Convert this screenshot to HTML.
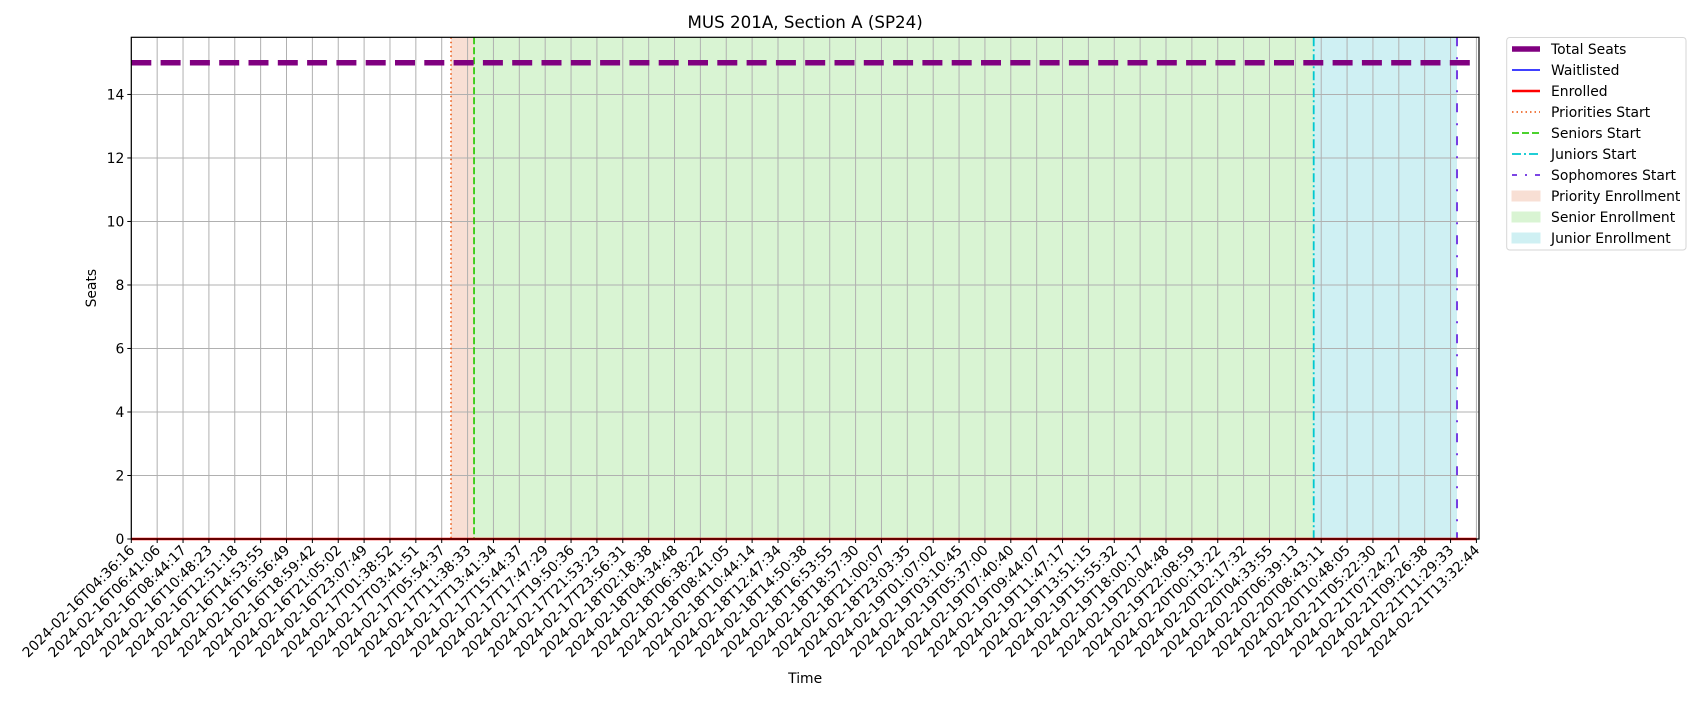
<!DOCTYPE html>
<html><head><meta charset="utf-8"><style>
body{margin:0;background:#fff;width:1700px;height:700px;overflow:hidden}
svg{font-family:"DejaVu Sans","Liberation Sans",sans-serif}
</style></head><body>
<svg id="chart" width="1700" height="700"></svg>
<script>
const categories=["2024-02-16T04:36:16","2024-02-16T06:41:06","2024-02-16T08:44:17","2024-02-16T10:48:23","2024-02-16T12:51:18","2024-02-16T14:53:55","2024-02-16T16:56:49","2024-02-16T18:59:42","2024-02-16T21:05:02","2024-02-16T23:07:49","2024-02-17T01:38:52","2024-02-17T03:41:51","2024-02-17T05:54:37","2024-02-17T11:38:33","2024-02-17T13:41:34","2024-02-17T15:44:37","2024-02-17T17:47:29","2024-02-17T19:50:36","2024-02-17T21:53:23","2024-02-17T23:56:31","2024-02-18T02:18:38","2024-02-18T04:34:48","2024-02-18T06:38:22","2024-02-18T08:41:05","2024-02-18T10:44:14","2024-02-18T12:47:34","2024-02-18T14:50:38","2024-02-18T16:53:55","2024-02-18T18:57:30","2024-02-18T21:00:07","2024-02-18T23:03:35","2024-02-19T01:07:02","2024-02-19T03:10:45","2024-02-19T05:37:00","2024-02-19T07:40:40","2024-02-19T09:44:07","2024-02-19T11:47:17","2024-02-19T13:51:15","2024-02-19T15:55:32","2024-02-19T18:00:17","2024-02-19T20:04:48","2024-02-19T22:08:59","2024-02-20T00:13:22","2024-02-20T02:17:32","2024-02-20T04:33:55","2024-02-20T06:39:13","2024-02-20T08:43:11","2024-02-20T10:48:05","2024-02-21T05:22:30","2024-02-21T07:24:27","2024-02-21T09:26:38","2024-02-21T11:29:33","2024-02-21T13:32:44"];
const totalSeats=categories.map(()=>15);
const waitlisted=categories.map(()=>0);
const enrolled=categories.map(()=>0);
const yTicks=[0,2,4,6,8,10,12,14];
const phaseStarts=[12.36,13.25,45.71,51.25];
const phaseNames=["priorities","seniors","juniors","sophomores"];

const L=131.3,R=1479,T=37.3,B=539;
const xMin=0,xMax=52.1,yMin=0,yMax=15.8;
const X=v=>L+(v-xMin)/(xMax-xMin)*(R-L);
const Y=v=>B-(v-yMin)/(yMax-yMin)*(B-T);
const svg=document.getElementById('chart');
const NS='http://www.w3.org/2000/svg';
function mk(tag,attrs,parent){const e=document.createElementNS(NS,tag);for(const k in attrs)e.setAttribute(k,attrs[k]);(parent||svg).appendChild(e);return e;}

const spanColors=["#f8dfd4","#d9f4d3","#cff0f3"];
const spanNames=["priority-enrollment-span","senior-enrollment-span","junior-enrollment-span"];
for(let i=0;i<3;i++){
  const r=mk('rect',{x:X(phaseStarts[i]),y:T,width:X(phaseStarts[i+1])-X(phaseStarts[i]),height:B-T,fill:spanColors[i]});
  
  
}
categories.forEach((c,i)=>{
  const g=mk('line',{x1:X(i),x2:X(i),y1:T,y2:B,stroke:'#b0b0b0','stroke-width':1});
  
  
});
yTicks.forEach(v=>{
  const g=mk('line',{x1:L,x2:R,y1:Y(v),y2:Y(v),stroke:'#b0b0b0','stroke-width':1});
  
  
});
const lineStyles=[{c:"#ee6a2c",d:"1.5 3"},{c:"#33cc11",d:"7 3"},{c:"#00c8d0",d:"9 3 2 3"},{c:"#6a2be0",d:"9 11 2 11"}];
phaseStarts.forEach((v,i)=>{
  const l=mk('line',{x1:X(v),x2:X(v),y1:T,y2:B,stroke:lineStyles[i].c,'stroke-width':1.8,'stroke-dasharray':lineStyles[i].d});
  
  
});
function poly(vals,attrs,name){
  const pts=vals.map((v,i)=>X(i)+','+Y(v)).join(' ');
  const p=mk('polyline',Object.assign({points:pts,fill:'none'},attrs));
  
  
}
{
  const l=mk('line',{x1:L,x2:R,y1:Y(totalSeats[0]),y2:Y(totalSeats[0]),stroke:'#800080','stroke-width':5.5,'stroke-dasharray':'20 9.3'});
  
  
}
poly(waitlisted,{stroke:'#0000ff','stroke-width':1.5},'waitlisted-line');
poly(enrolled,{stroke:'#ff0000','stroke-width':2.5},'enrolled-line');
const fr=mk('rect',{x:L,y:T,width:R-L,height:B-T,fill:'none',stroke:'#000','stroke-width':1.2});


yTicks.forEach(v=>{
  mk('line',{x1:L-4,x2:L,y1:Y(v),y2:Y(v),stroke:'#000'});
  const t=mk('text',{x:L-7,y:Y(v)+5,'text-anchor':'end','font-size':13.9,fill:'#000'});
  t.textContent=v;
  
  
});
categories.forEach((c,i)=>{
  mk('line',{x1:X(i),x2:X(i),y1:B,y2:B+4,stroke:'#000'});
  const t=mk('text',{x:X(i)+4,y:B+12,'text-anchor':'end','font-size':13.9,fill:'#000',transform:`rotate(-45 ${X(i)+4} ${B+12})`});
  t.textContent=c;
  
  
});
let t=mk('text',{x:(L+R)/2,y:28,'text-anchor':'middle','font-size':16.7});
t.textContent='MUS 201A, Section A (SP24)';

t=mk('text',{x:(L+R)/2,y:683,'text-anchor':'middle','font-size':13.9});
t.textContent='Time';

t=mk('text',{x:96,y:(T+B)/2,'text-anchor':'middle','font-size':13.9,transform:`rotate(-90 96 ${(T+B)/2})`});
t.textContent='Seats';

const lg=mk('g',{});

mk('rect',{x:1506.7,y:37.5,width:179.3,height:212.5,rx:3,fill:'#fff',stroke:'#d6d6d6'},lg);
const entries=[["Total Seats","line","#800080",5.5,""],["Waitlisted","line","#0000ff",1.5,""],["Enrolled","line","#ff0000",2.5,""],["Priorities Start","line","#ee6a2c",1.8,"1.5 3"],["Seniors Start","line","#33cc11",1.8,"7 3"],["Juniors Start","line","#00c8d0",1.8,"9 3 2 3"],["Sophomores Start","line","#6a2be0",1.8,"5 8 2 8"],["Priority Enrollment","rect","#f8dfd4"],["Senior Enrollment","rect","#d9f4d3"],["Junior Enrollment","rect","#cff0f3"]];
entries.forEach((e,i)=>{
  const y=49+i*21.0;
  const g=mk('g',{},lg);
  
  if(e[1]==='line') mk('line',{x1:1512,x2:1540,y1:y,y2:y,stroke:e[2],'stroke-width':e[3],'stroke-dasharray':e[4]},g);
  else mk('rect',{x:1512,y:y-5,width:28,height:10,fill:e[2],stroke:e[2]},g);
  const tx=mk('text',{x:1551,y:y+5,'font-size':13.9},g);
  tx.textContent=e[0];
});
</script>
</body></html>
